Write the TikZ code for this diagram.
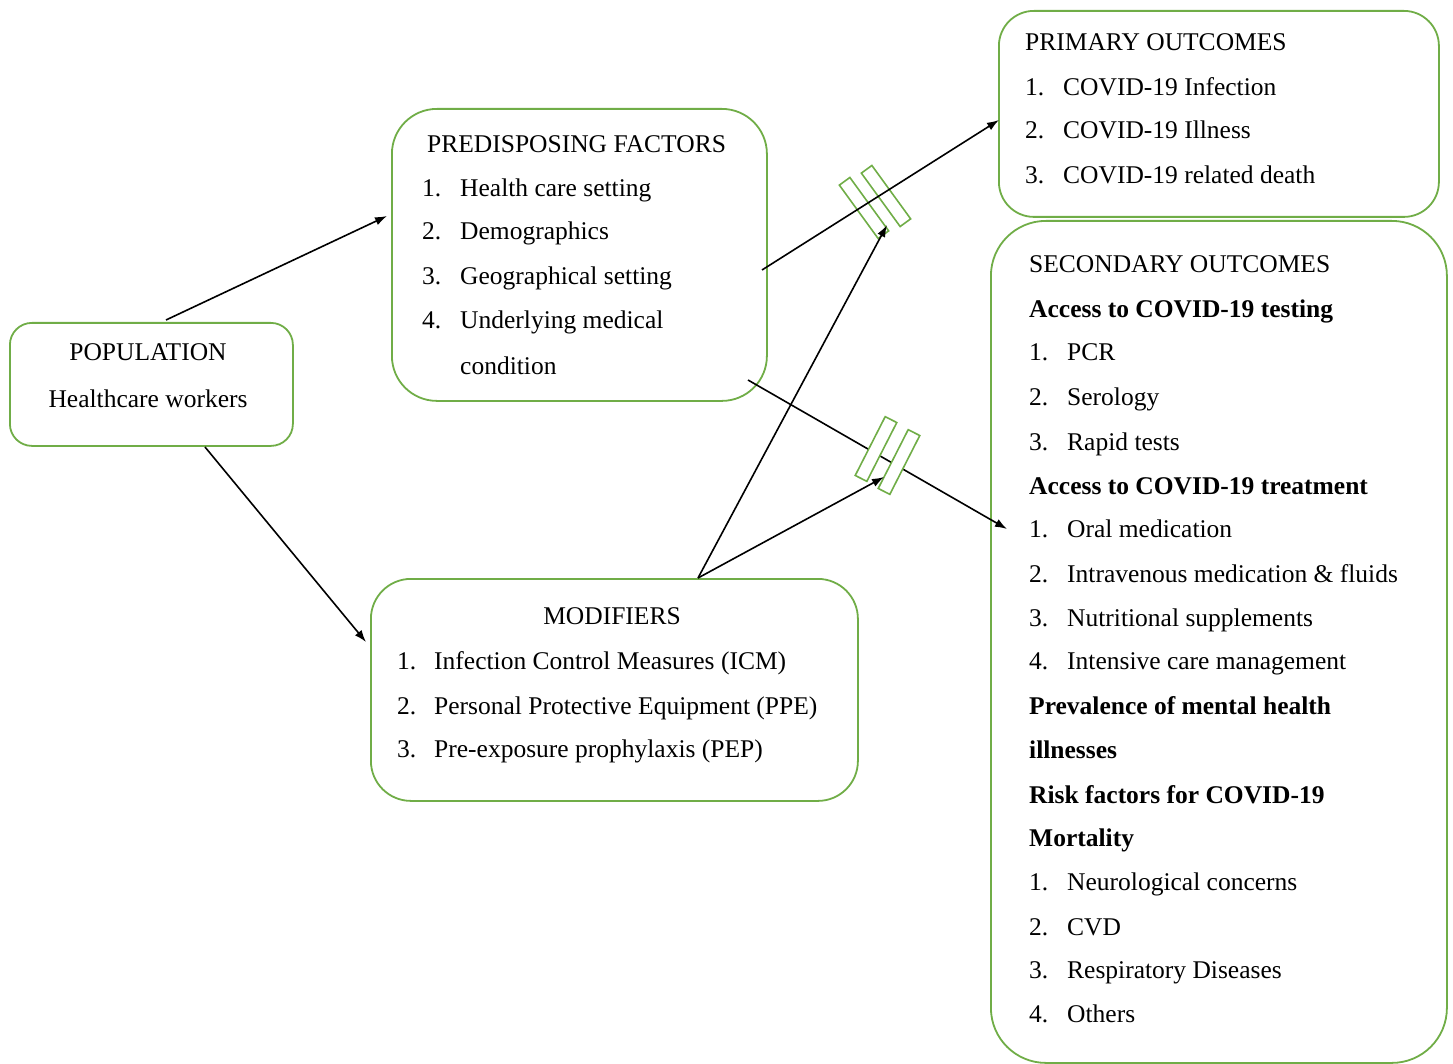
\documentclass[tikz,border=0pt]{standalone}
\usepackage{fontspec}
\setmainfont{Liberation Serif}
\usetikzlibrary{arrows.meta}
\definecolor{boxgreen}{HTML}{70AD47}

\tikzset{
  box/.style={draw=boxgreen, line width=1.8pt, anchor=north west, inner sep=0pt},
  txt/.style={anchor=base west, inner sep=0pt, font=\fontsize{25.5}{30}\selectfont},
  head/.style={txt, font=\fontsize{25.5}{30}\selectfont\bfseries},
  link/.style={-{Latex[length=12pt,width=8.5pt]}, line width=1.6pt},
  bar/.style={draw=boxgreen, line width=1.6pt, minimum width=13pt, minimum height=66pt, inner sep=0pt}
}

\begin{document}
\begin{tikzpicture}[x=1pt, y=-1pt]
    \useasboundingbox (0,0) rectangle (1453,1064);

    % boxes
    \node[box, rounded corners=22pt, minimum width=283pt, minimum height=123pt] (pop) at (9,322) {};
    \node[box, rounded corners=45pt, minimum width=375pt, minimum height=292pt] (pf) at (391,108) {};
    \node[box, rounded corners=40pt, minimum width=487pt, minimum height=222pt] (mod) at (370,578) {};
    \node[box, rounded corners=35pt, minimum width=440pt, minimum height=206pt] (po) at (998,10) {};
    \node[box, rounded corners=55pt, minimum width=456pt, minimum height=842pt] (so) at (990,220) {};

    % population
    \node[txt, anchor=base] (pop-h) at (148,360) {POPULATION};
    \node[txt, anchor=base] (pop-t) at (148,407) {Healthcare workers};

    % predisposing factors
    \node[txt] (pf-h) at (427,153) {PREDISPOSING FACTORS};
    \foreach \y/\n/\t in {197/1/Health care setting, 240/2/Demographics,
                          285/3/Geographical setting, 329/4/Underlying medical}{
        \node[txt] (pf-n\n) at (422,\y) {\n.};
        \node[txt] (pf-t\n) at (460,\y) {\t};
    }
    \node[txt] (pf-t5) at (460,374) {condition};

    % modifiers
    \node[txt, anchor=base] (mod-h) at (612,624) {MODIFIERS};
    \foreach \y/\n/\t in {669/1/Infection Control Measures (ICM),
                          714/2/Personal Protective Equipment (PPE),
                          757/3/Pre-exposure prophylaxis (PEP)}{
        \node[txt] (mod-n\n) at (397,\y) {\n.};
        \node[txt] (mod-t\n) at (434,\y) {\t};
    }

    % primary outcomes
    \node[txt] (po-h) at (1025,51) {PRIMARY OUTCOMES};
    \foreach \y/\n/\t in {96/1/COVID-19 Infection, 139/2/COVID-19 Illness,
                          184/3/COVID-19 related death}{
        \node[txt] (po-n\n) at (1025,\y) {\n.};
        \node[txt] (po-t\n) at (1063,\y) {\t};
    }

    % secondary outcomes
    \node[txt] (so-h) at (1029,273) {SECONDARY OUTCOMES};
    \node[head] (so-a) at (1029,318) {Access to COVID-19 testing};
    \foreach \y/\n/\t in {360/1/PCR, 405/2/Serology, 450/3/Rapid tests}{
        \node[txt] (so-an\n) at (1029,\y) {\n.};
        \node[txt] (so-at\n) at (1067,\y) {\t};
    }
    \node[head] (so-b) at (1029,494) {Access to COVID-19 treatment};
    \foreach \y/\n/\t in {537/1/Oral medication, 582/2/Intravenous medication \& fluids,
                          626/3/Nutritional supplements, 669/4/Intensive care management}{
        \node[txt] (so-bn\n) at (1029,\y) {\n.};
        \node[txt] (so-bt\n) at (1067,\y) {\t};
    }
    \node[head] (so-c1) at (1029,714) {Prevalence of mental health};
    \node[head] (so-c2) at (1029,758) {illnesses};
    \node[head] (so-d1) at (1029,803) {Risk factors for COVID-19};
    \node[head] (so-d2) at (1029,846) {Mortality};
    \foreach \y/\n/\t in {890/1/Neurological concerns, 935/2/CVD,
                          978/3/Respiratory Diseases, 1022/4/Others}{
        \node[txt] (so-dn\n) at (1029,\y) {\n.};
        \node[txt] (so-dt\n) at (1067,\y) {\t};
    }

    % arrow ends
    \coordinate (pop-up) at (166,320);
    \coordinate (pop-down) at (205,447);
    \coordinate (pf-in) at (387,216);
    \coordinate (mod-in) at (366,642);
    \coordinate (pf-out1) at (762,270);
    \coordinate (pf-out2) at (748,380);
    \coordinate (po-in) at (999,120);
    \coordinate (so-in) at (1007,529);
    \coordinate (mod-out) at (698,578);
    \coordinate (cut1-in) at (887,225);
    \coordinate (cut2-in) at (884,477);

    % broken links
    \node[bar, rotate=36] (cut1a) at (864,208) {};
    \node[bar, rotate=36] (cut1b) at (886,196) {};

    \draw[link] (pop-up) -- (pf-in);
    \draw[link] (pop-down) -- (mod-in);
    \draw[link] (pf-out1) -- (po-in);
    \draw[link] (pf-out2) -- (so-in);
    \draw[link] (mod-out) -- (cut1-in);

    \node[bar, fill=white, rotate=-27] (cut2a) at (876,449) {};
    \node[bar, fill=white, rotate=-27] (cut2b) at (899,462) {};

    \draw[link] (mod-out) -- (cut2-in);
\end{tikzpicture}
\end{document}
